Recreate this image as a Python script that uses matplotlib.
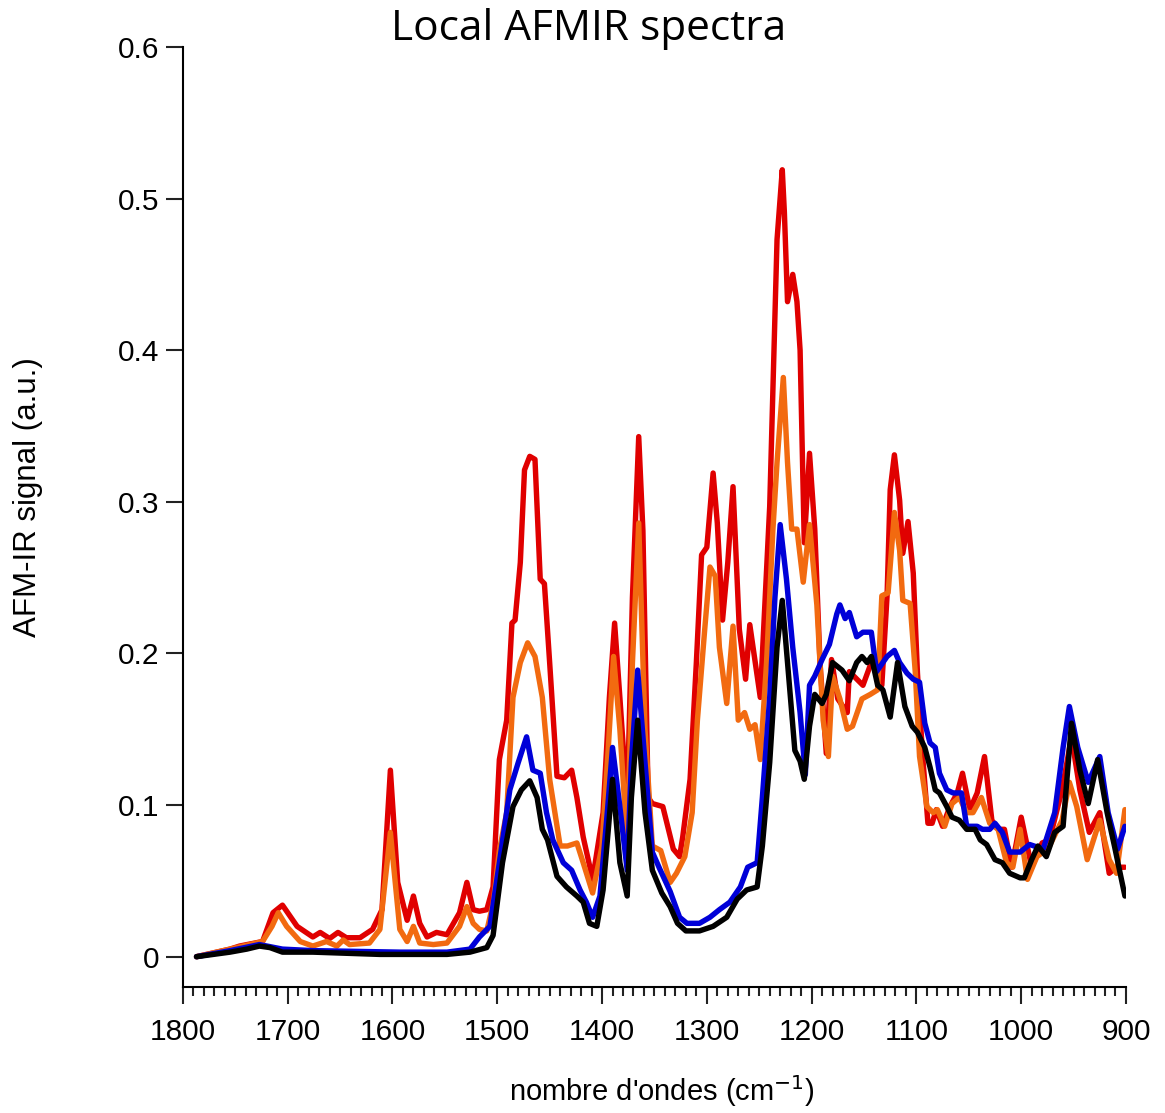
import matplotlib
matplotlib.use("Agg")
import matplotlib.pyplot as plt
from matplotlib.ticker import MultipleLocator, FuncFormatter


# spectra: wavenumber (cm-1) and AFM-IR signal (a.u.)
red_wn = [
    1787, 1755, 1746, 1724, 1714, 1705, 1691, 1676, 1669, 1660,
    1652, 1644, 1631, 1619, 1610, 1602, 1595, 1586, 1580, 1574,
    1567, 1558, 1548, 1536, 1529, 1523, 1517, 1510, 1504, 1498,
    1491, 1486, 1483, 1478, 1474, 1469, 1464, 1459, 1455, 1450,
    1443, 1436, 1429, 1424, 1418, 1409, 1399, 1393, 1388, 1383,
    1376, 1371, 1365, 1361, 1356, 1352, 1342, 1332, 1326, 1323,
    1316, 1310, 1305, 1300, 1294, 1290, 1285, 1280, 1275, 1269,
    1263, 1259, 1249, 1240, 1233, 1228, 1226, 1223, 1218, 1214,
    1211, 1207, 1202, 1197, 1192, 1186, 1181, 1175, 1166, 1164,
    1151, 1142, 1133, 1128, 1125, 1121, 1116, 1113, 1108, 1103,
    1099, 1094, 1089, 1085, 1081, 1075, 1068, 1061, 1056, 1049,
    1042, 1035, 1028, 1022, 1016, 1009, 1000, 990, 980, 973,
    961, 952, 944, 935, 925, 916, 909, 901,
]
red_signal = [
    0.0, 0.005, 0.007, 0.010, 0.029, 0.034, 0.020, 0.013, 0.016, 0.012,
    0.016, 0.0125, 0.0125, 0.018, 0.031, 0.123, 0.049, 0.024, 0.040, 0.022,
    0.013, 0.016, 0.0145, 0.029, 0.049, 0.031, 0.030, 0.031, 0.046, 0.130,
    0.156, 0.220, 0.222, 0.260, 0.321, 0.330, 0.328, 0.249, 0.246, 0.194,
    0.119, 0.118, 0.123, 0.105, 0.079, 0.051, 0.095, 0.171, 0.220, 0.171,
    0.100, 0.237, 0.343, 0.281, 0.105, 0.101, 0.099, 0.071, 0.066, 0.079,
    0.117, 0.194, 0.265, 0.270, 0.319, 0.286, 0.222, 0.260, 0.310, 0.216,
    0.183, 0.219, 0.171, 0.297, 0.473, 0.519, 0.491, 0.432, 0.450, 0.432,
    0.400, 0.273, 0.332, 0.282, 0.194, 0.134, 0.196, 0.170, 0.161, 0.188,
    0.179, 0.196, 0.179, 0.238, 0.308, 0.331, 0.301, 0.266, 0.287, 0.253,
    0.187, 0.132, 0.088, 0.088, 0.097, 0.086, 0.099, 0.108, 0.121, 0.097,
    0.108, 0.132, 0.090, 0.084, 0.084, 0.059, 0.092, 0.059, 0.075, 0.077,
    0.110, 0.145, 0.110, 0.082, 0.095, 0.055, 0.059, 0.059,
]

orange_wn = [
    1787, 1755, 1724, 1715, 1709, 1701, 1688, 1676, 1663, 1653,
    1647, 1641, 1622, 1612, 1602, 1593, 1586, 1580, 1574, 1561,
    1548, 1536, 1529, 1523, 1517, 1510, 1504, 1498, 1491, 1485,
    1478, 1471, 1464, 1457, 1450, 1440, 1433, 1424, 1418, 1409,
    1400, 1394, 1389, 1383, 1376, 1371, 1365, 1359, 1352, 1344,
    1335, 1329, 1321, 1314, 1309, 1302, 1297, 1292, 1288, 1281,
    1275, 1270, 1264, 1259, 1254, 1249, 1243, 1237, 1233, 1227,
    1223, 1219, 1214, 1208, 1202, 1195, 1189, 1184, 1180, 1173,
    1166, 1161, 1152, 1144, 1137, 1133, 1127, 1121, 1116, 1113,
    1106, 1101, 1097, 1090, 1084, 1080, 1073, 1066, 1059, 1052,
    1046, 1038, 1030, 1022, 1014, 1008, 1001, 994, 985, 979,
    973, 961, 954, 947, 937, 925, 916, 909, 901,
]
orange_signal = [
    0.0, 0.005, 0.010, 0.020, 0.029, 0.020, 0.010, 0.007, 0.010, 0.007,
    0.011, 0.008, 0.009, 0.018, 0.082, 0.018, 0.010, 0.020, 0.009, 0.008,
    0.009, 0.020, 0.033, 0.022, 0.018, 0.017, 0.035, 0.070, 0.095, 0.171,
    0.194, 0.207, 0.198, 0.171, 0.117, 0.073, 0.073, 0.075, 0.062, 0.042,
    0.073, 0.138, 0.198, 0.150, 0.075, 0.194, 0.286, 0.150, 0.073, 0.070,
    0.049, 0.055, 0.066, 0.095, 0.156, 0.216, 0.257, 0.251, 0.204, 0.167,
    0.218, 0.156, 0.161, 0.150, 0.153, 0.130, 0.194, 0.281, 0.326, 0.382,
    0.326, 0.282, 0.282, 0.247, 0.285, 0.232, 0.156, 0.132, 0.185, 0.170,
    0.150, 0.152, 0.170, 0.173, 0.176, 0.238, 0.240, 0.293, 0.268, 0.235,
    0.233, 0.187, 0.132, 0.099, 0.095, 0.097, 0.086, 0.101, 0.105, 0.095,
    0.095, 0.105, 0.088, 0.084, 0.062, 0.059, 0.084, 0.051, 0.066, 0.069,
    0.073, 0.090, 0.115, 0.099, 0.064, 0.090, 0.064, 0.055, 0.097,
]

blue_wn = [
    1787, 1755, 1727, 1705, 1676, 1593, 1548, 1526, 1517, 1507,
    1498, 1488, 1480, 1472, 1466, 1459, 1453, 1447, 1437, 1429,
    1421, 1415, 1409, 1402, 1395, 1390, 1383, 1376, 1372, 1366,
    1359, 1352, 1345, 1335, 1326, 1319, 1307, 1297, 1288, 1278,
    1268, 1261, 1252, 1247, 1240, 1235, 1230, 1224, 1218, 1211,
    1206, 1202, 1197, 1190, 1183, 1176, 1173, 1168, 1164, 1157,
    1151, 1143, 1138, 1132, 1128, 1121, 1116, 1109, 1103, 1097,
    1092, 1087, 1082, 1078, 1071, 1065, 1057, 1052, 1042, 1037,
    1030, 1025, 1018, 1011, 1001, 992, 979, 968, 960, 954,
    946, 936, 925, 917, 908, 901,
]
blue_signal = [
    0.0, 0.004, 0.008, 0.005, 0.004, 0.003, 0.003, 0.005, 0.013, 0.020,
    0.062, 0.110, 0.128, 0.145, 0.123, 0.121, 0.095, 0.077, 0.062, 0.057,
    0.044, 0.036, 0.026, 0.040, 0.095, 0.138, 0.099, 0.057, 0.128, 0.189,
    0.128, 0.069, 0.058, 0.043, 0.026, 0.022, 0.022, 0.026, 0.031, 0.036,
    0.046, 0.059, 0.062, 0.105, 0.171, 0.237, 0.285, 0.249, 0.204, 0.161,
    0.120, 0.179, 0.185, 0.196, 0.206, 0.226, 0.232, 0.223, 0.227, 0.211,
    0.214, 0.214, 0.188, 0.194, 0.198, 0.202, 0.194, 0.187, 0.183, 0.181,
    0.154, 0.141, 0.138, 0.121, 0.110, 0.108, 0.108, 0.086, 0.086, 0.084,
    0.084, 0.088, 0.082, 0.069, 0.069, 0.074, 0.071, 0.095, 0.138, 0.165,
    0.138, 0.115, 0.132, 0.095, 0.071, 0.086,
]

black_wn = [
    1787, 1755, 1739, 1727, 1717, 1705, 1676, 1612, 1548, 1526,
    1510, 1504, 1495, 1485, 1477, 1469, 1462, 1457, 1452, 1443,
    1434, 1424, 1418, 1412, 1405, 1399, 1394, 1390, 1383, 1376,
    1372, 1366, 1359, 1352, 1343, 1335, 1328, 1320, 1307, 1294,
    1281, 1271, 1262, 1252, 1247, 1240, 1233, 1228, 1223, 1216,
    1211, 1207, 1202, 1197, 1190, 1186, 1180, 1171, 1164, 1157,
    1152, 1147, 1143, 1137, 1132, 1125, 1118, 1111, 1104, 1099,
    1092, 1087, 1082, 1078, 1071, 1066, 1059, 1052, 1044, 1039,
    1033, 1025, 1018, 1011, 1001, 997, 990, 984, 976, 968,
    960, 952, 944, 936, 927, 918, 911, 901,
]
black_signal = [
    0.0, 0.003, 0.005, 0.007, 0.006, 0.003, 0.003, 0.0015, 0.0015, 0.003,
    0.006, 0.014, 0.062, 0.099, 0.110, 0.116, 0.105, 0.084, 0.077, 0.053,
    0.046, 0.040, 0.036, 0.022, 0.020, 0.044, 0.084, 0.117, 0.062, 0.040,
    0.105, 0.156, 0.095, 0.057, 0.042, 0.033, 0.022, 0.017, 0.017, 0.020,
    0.026, 0.038, 0.044, 0.046, 0.073, 0.128, 0.204, 0.235, 0.194, 0.136,
    0.129, 0.117, 0.152, 0.173, 0.167, 0.173, 0.194, 0.189, 0.182, 0.194,
    0.198, 0.194, 0.198, 0.179, 0.176, 0.158, 0.194, 0.165, 0.152, 0.148,
    0.138, 0.125, 0.110, 0.108, 0.099, 0.092, 0.090, 0.084, 0.084, 0.077,
    0.074, 0.064, 0.062, 0.055, 0.052, 0.052, 0.064, 0.073, 0.066, 0.082,
    0.086, 0.154, 0.123, 0.101, 0.130, 0.095, 0.073, 0.040,
]

series = [
    (red_wn, red_signal, "#e00000"),
    (orange_wn, orange_signal, "#f26a10"),
    (blue_wn, blue_signal, "#0000d8"),
    (black_wn, black_signal, "#000000"),
]


def fmt_y(v, _pos):
    return "0" if abs(v) < 1e-9 else f"{v:.1f}"


def main() -> None:
    plt.rcParams["font.family"] = ["Liberation Sans", "DejaVu Sans"]
    fig = plt.figure(figsize=(11.65, 11.13), dpi=100)
    ax = fig.add_axes([0.157, 0.1132, 0.8095, 0.8446])

    for wn, sig, color in series:
        ax.plot(wn, sig, color=color, lw=3.9, solid_joinstyle="round",
                solid_capstyle="round")

    ax.set_xlim(1800, 900)
    ax.set_ylim(-0.02, 0.6)
    ax.xaxis.set_major_locator(MultipleLocator(100))
    ax.xaxis.set_minor_locator(MultipleLocator(10))
    ax.yaxis.set_major_locator(MultipleLocator(0.1))
    ax.yaxis.set_major_formatter(FuncFormatter(fmt_y))

    for side in ("top", "right"):
        ax.spines[side].set_visible(False)
    for side in ("left", "bottom"):
        ax.spines[side].set_linewidth(1.5)

    ax.tick_params(axis="both", which="major", direction="out", length=12,
                   width=1.5, labelsize=21.5, color="#222222")
    ax.tick_params(axis="x", which="major", pad=10)
    ax.tick_params(axis="y", which="major", pad=5)
    ax.tick_params(axis="x", which="minor", direction="out", length=6.5,
                   width=1.5, color="#222222")

    fig.text(0.505, 0.974, "Local AFMIR spectra", ha="center", va="center",
             fontsize=30.5, family=["Open Sans", "DejaVu Sans"])
    fig.text(0.024, 0.553, "AFM-IR signal (a.u.)", rotation=90, ha="center",
             va="center", fontsize=22.5)
    fig.text(0.568, 0.004, r"nombre d'ondes (cm$^{-1}$)", ha="center",
             va="bottom", fontsize=21)

    fig.savefig("out.png", dpi=100)


if __name__ == "__main__":
    main()
